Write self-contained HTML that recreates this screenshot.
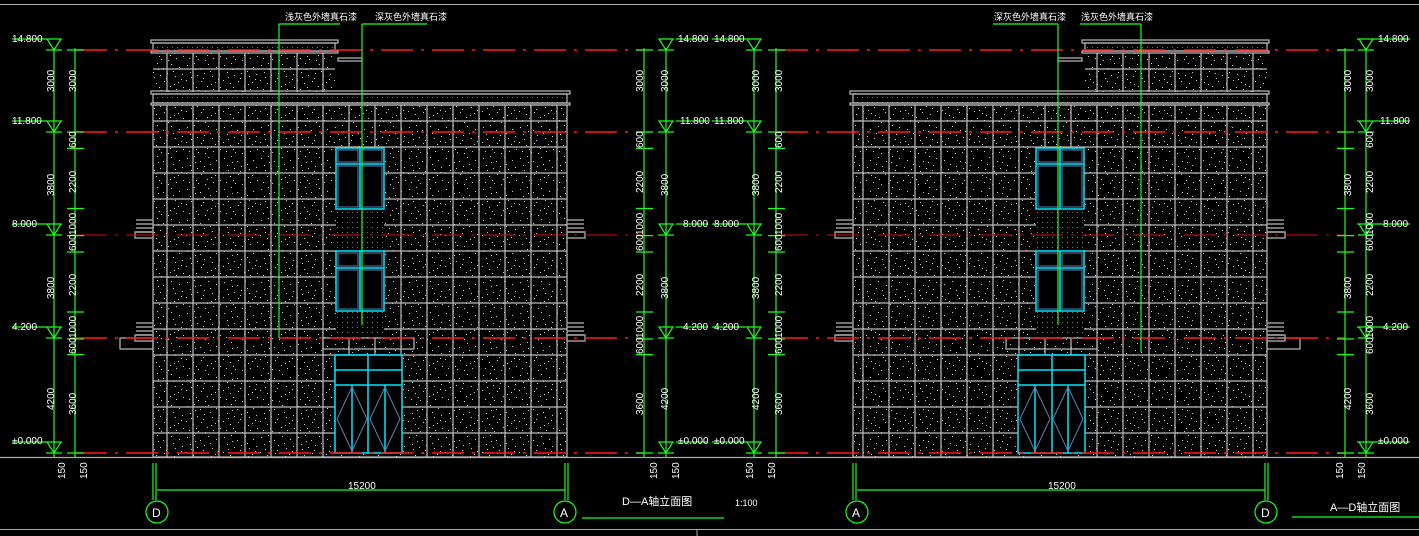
<!DOCTYPE html>
<html><head><meta charset="utf-8">
<style>
html,body{margin:0;padding:0;background:#000;width:1419px;height:536px;overflow:hidden}
svg{display:block}
text{font-family:"Liberation Sans","Noto Sans CJK SC",sans-serif;fill:#fff}
.d{font-size:10px}
</style></head><body>
<svg id="s" width="1419" height="536" viewBox="0 0 1419 536" xmlns="http://www.w3.org/2000/svg">
<defs>
<pattern id="spk" width="37" height="31" patternUnits="userSpaceOnUse">
<g fill="#cfcfcf">
<rect x="2" y="3" width="1" height="1"/><rect x="9" y="1" width="1" height="1"/><rect x="15" y="6" width="1" height="1"/><rect x="23" y="2" width="1" height="1"/><rect x="31" y="5" width="1" height="1"/><rect x="5" y="10" width="1" height="1"/><rect x="12" y="13" width="1" height="1"/><rect x="19" y="11" width="1" height="1"/><rect x="27" y="14" width="1" height="1"/><rect x="34" y="12" width="1" height="1"/><rect x="1" y="18" width="1" height="1"/><rect x="8" y="21" width="1" height="1"/><rect x="16" y="19" width="1" height="1"/><rect x="22" y="24" width="1" height="1"/><rect x="30" y="20" width="1" height="1"/><rect x="4" y="27" width="1" height="1"/><rect x="13" y="28" width="1" height="1"/><rect x="20" y="29" width="1" height="1"/><rect x="28" y="27" width="1" height="1"/><rect x="35" y="25" width="1" height="1"/><rect x="10" y="7" width="1" height="1"/><rect x="25" y="9" width="1" height="1"/><rect x="6" y="15" width="1" height="1"/><rect x="33" y="17" width="1" height="1"/><rect x="18" y="16" width="1" height="1"/><rect x="11" y="25" width="1" height="1"/><rect x="26" y="22" width="1" height="1"/>
</g></pattern>
<pattern id="dots" width="5" height="5" patternUnits="userSpaceOnUse"><rect x="2" y="2" width="1" height="1" fill="#777"/></pattern>
<g id="bld">
<rect x="153" y="105" width="414" height="352" fill="url(#spk)"/>
<rect x="153" y="53" width="182" height="39" fill="url(#spk)"/>
<rect x="153" y="43" width="182" height="8" fill="url(#dots)"/>
<rect x="153" y="94" width="414" height="9" fill="url(#dots)"/>
<rect x="336" y="209" width="48" height="42" fill="#000"/><rect x="336" y="209" width="48" height="42" fill="url(#dots)"/>
<rect x="336" y="311" width="48" height="27" fill="#000"/><rect x="336" y="311" width="48" height="27" fill="url(#dots)"/>
<rect x="336" y="148" width="48" height="61" fill="#000"/><rect x="336" y="251" width="48" height="60" fill="#000"/>
<rect x="335" y="355" width="67" height="98" fill="#000"/>
<g stroke="#bdbdbd" stroke-width="1.2" fill="none" id="grid"></g>
<g stroke="#bdbdbd" stroke-width="1.2" fill="none">
<rect x="151" y="40" width="187" height="3"/><rect x="153" y="43" width="182" height="8"/><rect x="151" y="51" width="187" height="2"/>
<rect x="338" y="58" width="24" height="3"/>
<rect x="151" y="91" width="419" height="3"/><rect x="153" y="94" width="414" height="9"/><rect x="151" y="103" width="419" height="2"/>
<rect x="153" y="105" width="414" height="352"/>
<rect x="323" y="338" width="91" height="11"/>
<rect x="120" y="338" width="33" height="11"/>
</g>
<g stroke="#999" stroke-width="1.5" fill="none">
<path d="M567 220H584M567 224H584M567 228H584M567 232H584"/><rect x="567" y="232" width="18" height="6"/>
<path d="M567 323H584M567 327H584M567 331H584M567 335H584"/><rect x="567" y="335" width="18" height="6"/>
<path d="M153 220H136M153 224H136M153 228H136M153 232H136"/><rect x="135" y="232" width="18" height="6"/>
<path d="M153 323H136M153 327H136M153 331H136M153 335H136"/><rect x="135" y="335" width="18" height="6"/>
</g>
<g fill="none">
<g stroke="#00e5ff" stroke-width="1.5">
<rect x="336" y="148" width="48" height="61"/><path d="M336 164H384M360 148V209"/>
<rect x="336" y="251" width="48" height="60"/><path d="M336 268H384M360 251V311"/>
<rect x="335" y="355" width="67" height="98"/><path d="M335 370H402M335 385H402M368 355V453M352 385V453M385 385V453"/>
</g>
<g stroke="#5b7fb0" stroke-width="1">
<rect x="338" y="150" width="20" height="12"/><rect x="362" y="150" width="20" height="12"/>
<rect x="338" y="166" width="20" height="41"/><rect x="362" y="166" width="20" height="41"/>
<rect x="338" y="253" width="20" height="13"/><rect x="362" y="253" width="20" height="13"/>
<rect x="338" y="270" width="20" height="39"/><rect x="362" y="270" width="20" height="39"/>
<path d="M352 387L337 419L352 451M352 387L367 419L352 451M385 387L370 419L385 451M385 387L400 419L385 451"/>
</g>
</g>
</g>
</defs>

<rect width="1419" height="536" fill="#000"/>
<path d="M0 4.5H1419M0 529.5H1419M697 529V536" stroke="#aaa" stroke-width="1"/>
<path d="M0 457.5H1419" stroke="#aaa" stroke-width="1.2"/>

<use href="#bld"/>
<use href="#bld" transform="translate(1420,0) scale(-1,1)"/>

<g stroke="#ff1a1a" stroke-width="1.5" stroke-dasharray="32,8,3,8" fill="none">
<path d="M75 50H644M776 50H1345"/>
<path d="M75 132H644M776 132H1345"/>
<path d="M75 338H644M776 338H1345"/>
<path d="M75 453H644M776 453H1345"/>
</g>
<path d="M75 235H644M776 235H1345" stroke="#d01010" stroke-width="1" stroke-dasharray="32,8,3,8"/>

<g id="gl" stroke="#19ff19" stroke-width="1.2" fill="none"></g>

<g style="font-size:9px">
<text x="285" y="20">浅灰色外墙真石漆</text>
<text x="375" y="20">深灰色外墙真石漆</text>
<text x="994" y="20">深灰色外墙真石漆</text>
<text x="1081" y="20">浅灰色外墙真石漆</text>
</g>

<text x="348" y="489" class="d">15200</text>
<text x="1048" y="489" class="d">15200</text>
<text x="622" y="505" style="font-size:11px">D—A轴立面图</text>
<text x="735" y="506" style="font-size:9px">1:100</text>
<text x="1330" y="511" style="font-size:11px">A—D轴立面图</text>
<text x="152" y="517" style="font-size:12px">D</text>
<text x="560" y="517" style="font-size:12px">A</text>
<text x="852" y="517" style="font-size:12px">A</text>
<text x="1261" y="517" style="font-size:12px">D</text>

<g class="d">
<text transform="translate(54,92) rotate(-90)">3000</text>
<text transform="translate(54,196) rotate(-90)">3800</text>
<text transform="translate(54,299) rotate(-90)">3800</text>
<text transform="translate(54,410) rotate(-90)">4200</text>
<text transform="translate(76,92) rotate(-90)">3000</text>
<text transform="translate(76,148) rotate(-90)">600</text>
<text transform="translate(76,193) rotate(-90)">2200</text>
<text transform="translate(76,235) rotate(-90)">1000</text>
<text transform="translate(76,251) rotate(-90)">600</text>
<text transform="translate(76,296) rotate(-90)">2200</text>
<text transform="translate(76,338) rotate(-90)">1000</text>
<text transform="translate(76,354) rotate(-90)">600</text>
<text transform="translate(76,415) rotate(-90)">3600</text>
<text transform="translate(643,92) rotate(-90)">3000</text>
<text transform="translate(643,148) rotate(-90)">600</text>
<text transform="translate(643,193) rotate(-90)">2200</text>
<text transform="translate(643,235) rotate(-90)">1000</text>
<text transform="translate(643,251) rotate(-90)">600</text>
<text transform="translate(643,296) rotate(-90)">2200</text>
<text transform="translate(643,338) rotate(-90)">1000</text>
<text transform="translate(643,354) rotate(-90)">600</text>
<text transform="translate(643,415) rotate(-90)">3600</text>
<text transform="translate(668,92) rotate(-90)">3000</text>
<text transform="translate(668,196) rotate(-90)">3800</text>
<text transform="translate(668,299) rotate(-90)">3800</text>
<text transform="translate(668,410) rotate(-90)">4200</text>
<text transform="translate(759,92) rotate(-90)">3000</text>
<text transform="translate(759,196) rotate(-90)">3800</text>
<text transform="translate(759,299) rotate(-90)">3800</text>
<text transform="translate(759,410) rotate(-90)">4200</text>
<text transform="translate(782,92) rotate(-90)">3000</text>
<text transform="translate(782,148) rotate(-90)">600</text>
<text transform="translate(782,193) rotate(-90)">2200</text>
<text transform="translate(782,235) rotate(-90)">1000</text>
<text transform="translate(782,251) rotate(-90)">600</text>
<text transform="translate(782,296) rotate(-90)">2200</text>
<text transform="translate(782,338) rotate(-90)">1000</text>
<text transform="translate(782,354) rotate(-90)">600</text>
<text transform="translate(782,415) rotate(-90)">3600</text>
<text transform="translate(1351,92) rotate(-90)">3000</text>
<text transform="translate(1351,196) rotate(-90)">3800</text>
<text transform="translate(1351,299) rotate(-90)">3800</text>
<text transform="translate(1351,410) rotate(-90)">4200</text>
<text transform="translate(1373,92) rotate(-90)">3000</text>
<text transform="translate(1373,148) rotate(-90)">600</text>
<text transform="translate(1373,193) rotate(-90)">2200</text>
<text transform="translate(1373,235) rotate(-90)">1000</text>
<text transform="translate(1373,251) rotate(-90)">600</text>
<text transform="translate(1373,296) rotate(-90)">2200</text>
<text transform="translate(1373,338) rotate(-90)">1000</text>
<text transform="translate(1373,354) rotate(-90)">600</text>
<text transform="translate(1373,415) rotate(-90)">3600</text>
<text transform="translate(65,479) rotate(-90)">150</text>
<text transform="translate(87,479) rotate(-90)">150</text>
<text transform="translate(657,479) rotate(-90)">150</text>
<text transform="translate(679,479) rotate(-90)">150</text>
<text transform="translate(753,479) rotate(-90)">150</text>
<text transform="translate(775,479) rotate(-90)">150</text>
<text transform="translate(1343,479) rotate(-90)">150</text>
<text transform="translate(1365,479) rotate(-90)">150</text>
</g>
<g class="d">
<text x="12" y="42">14.800</text><text x="12" y="124">11.800</text><text x="12" y="227">8.000</text><text x="12" y="330">4.200</text><text x="12" y="444">±0.000</text>
<text x="678" y="42">14.800</text><text x="680" y="124">11.800</text><text x="683" y="227">8.000</text><text x="683" y="330">4.200</text><text x="678" y="444">±0.000</text>
<text x="714" y="42">14.800</text><text x="714" y="124">11.800</text><text x="714" y="227">8.000</text><text x="714" y="330">4.200</text><text x="714" y="444">±0.000</text>
<text x="1378" y="42">14.800</text><text x="1380" y="124">11.800</text><text x="1383" y="227">8.000</text><text x="1383" y="330">4.200</text><text x="1378" y="444">±0.000</text>
</g>

<script>
(function(){
var NS="http://www.w3.org/2000/svg";
function el(p,t,a){var e=document.createElementNS(NS,t);for(var k in a)e.setAttribute(k,a[k]);p.appendChild(e);return e;}
var g=document.getElementById("grid");
var d="";
var xs=[167,193,219,245,271,297,323,349,375,401,427,453,479,505,531,557];
xs.forEach(function(x){
 if(x>335&&x<385){d+="M"+x+" 105V148M"+x+" 338V355";}
 else if(x>=335&&x<=402){d+="M"+x+" 105V355";}
 else d+="M"+x+" 105V457";
});
for(var y=121;y<457;y+=26){
 if(y>148&&y<338){d+="M153 "+y+"H336M384 "+y+"H567";}
 else if(y>355){d+="M153 "+y+"H335M402 "+y+"H567";}
 else d+="M153 "+y+"H567";
}
[167,193,219,245,271,297,323].forEach(function(x){d+="M"+x+" 53V92";});
d+="M153 69H335";
el(g,"path",{d:d});
var G=document.getElementById("gl");
var p="";
p+="M279 24V338M279 24H340M362 24V325M362 24H427";
p+="M1141 24V352M1141 24H1080M1058 24V325M1058 24H993";
var levels=[50,132,235,338,453];
var ticks=[50,132,148.4,208.5,235.6,252,312,339,354.6,453];
function dims(xa,xb,lx1,lx2){
 p+="M"+xa+" 48V458M"+xb+" 48V458";
 levels.forEach(function(y){p+="M"+(xa-8)+" "+y+"H"+(xa+8);
  p+="M"+(xa-7)+" "+(y-11)+"L"+xa+" "+y+"L"+(xa+7)+" "+(y-11)+"Z";
  p+="M"+lx1+" "+(y-11)+"H"+lx2;});
 ticks.forEach(function(y){p+="M"+(xb-8)+" "+y+"H"+(xb+9);});
}
dims(54,75,12,62);
dims(666,644,676,708);
dims(754,776,712,746);
dims(1366,1345,1357,1410);
p+="M153 463V500M156 463V500M157 490H565M565 463V500M568 463V500";
p+="M853 463V500M856 463V500M857 490H1265M1265 463V500M1268 463V500";
p+="M582 518H724M1292 517H1419";
el(G,"path",{d:p});
[[157,512],[565,512],[857,512],[1266,512]].forEach(function(c){el(G,"circle",{cx:c[0],cy:c[1],r:11});});
})();
</script>
</svg>
</body></html>
